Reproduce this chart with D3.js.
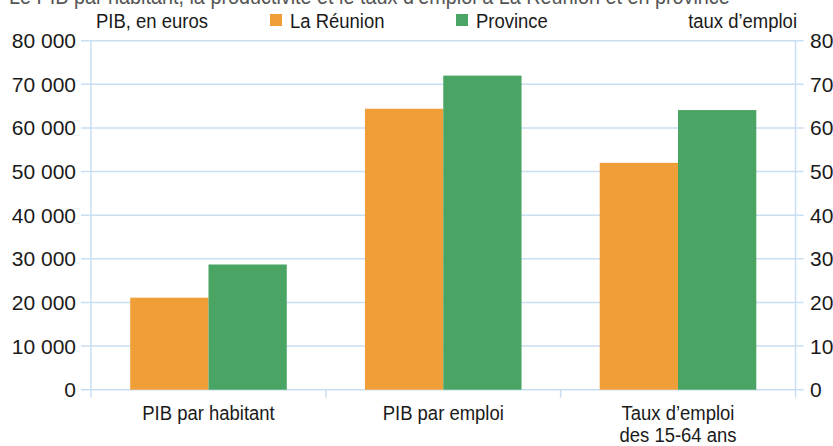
<!DOCTYPE html>
<html>
<head>
<meta charset="utf-8">
<script src="https://cdn.jsdelivr.net/npm/d3@7"></script>
<style>
  body { margin: 0; background: #fff; }
  svg text { font-family: "Liberation Sans", Arial, sans-serif; fill: #1a1a1a; }
</style>
</head>
<body>
<div class="svg-container"></div>
<script>
// data
const categories = [["PIB par habitant"], ["PIB par emploi"], ["Taux d’emploi", "des 15-64 ans"]];
const seriesNames = ["La Réunion", "Province"];
const reunion = [21100, 64400, 52.0];
const province = [28700, 72000, 64.1];
const useRightAxis = [false, false, true];
const leftTicks = [0, 10000, 20000, 30000, 40000, 50000, 60000, 70000, 80000];
const rightTicks = [0, 10, 20, 30, 40, 50, 60, 70, 80];
const colors = ["#f09f38", "#4aa564"];

const w = 833;
const h = 446;
const plotL = 91, plotR = 795.5, plotT = 40.7, plotB = 389.7;
const gridColor = "#c8def2";
const narrow = 0.88; // the original font is condensed

const svg = d3.select(".svg-container")
  .append("svg")
  .attr("width", w)
  .attr("height", h);

// put a condensed text at x, y
function label(parent, x, y, txt, anchor, size) {
  return parent.append("text")
    .attr("transform", "translate(" + x + "," + y + ") scale(" + narrow + ",1)")
    .attr("text-anchor", anchor || "start")
    .style("font-size", (size || 21) + "px")
    .text(txt);
}

// SCALES
const yLeft = d3.scaleLinear().domain([0, 80000]).range([plotB, plotT]);
const yRight = d3.scaleLinear().domain([0, 80]).range([plotB, plotT]);

const x0 = d3.scaleBand()
  .domain(d3.range(categories.length))
  .range([plotL, plotR])
  .paddingInner(0.333)
  .paddingOuter(0.167);
const x1 = d3.scaleBand()
  .domain(d3.range(seriesNames.length))
  .range([0, x0.bandwidth()]);

// title (cut at the top, as in the original)
label(svg, 9, 3.5, "Le PIB par habitant, la productivité et le taux d’emploi à La Réunion et en province", "start", 22.5)
  .style("fill", "#555");

// GRID
svg.append("g")
  .selectAll("line")
  .data(leftTicks)
  .enter()
  .append("line")
  .attr("x1", plotL - 10)
  .attr("x2", plotR + 8)
  .attr("y1", d => yLeft(d))
  .attr("y2", d => yLeft(d))
  .attr("stroke", gridColor)
  .attr("stroke-width", 1.5);

// axis lines
svg.append("line")
  .attr("x1", plotL).attr("x2", plotL)
  .attr("y1", plotT).attr("y2", plotB + 8)
  .attr("stroke", gridColor).attr("stroke-width", 1.5);
svg.append("line")
  .attr("x1", plotR).attr("x2", plotR)
  .attr("y1", plotT).attr("y2", plotB + 8)
  .attr("stroke", gridColor).attr("stroke-width", 1.5);

// category ticks
svg.append("g")
  .selectAll("line")
  .data(d3.range(1, categories.length))
  .enter()
  .append("line")
  .attr("x1", i => x0(i) - x0.step() * x0.paddingInner() / 2)
  .attr("x2", i => x0(i) - x0.step() * x0.paddingInner() / 2)
  .attr("y1", plotB)
  .attr("y2", plotB + 8)
  .attr("stroke", gridColor).attr("stroke-width", 1.5);

// RECT
const groups = svg.append("g")
  .selectAll("g")
  .data(categories.map((c, i) => i))
  .enter()
  .append("g")
  .attr("transform", i => "translate(" + x0(i) + ",0)");

groups.selectAll("rect")
  .data(i => [reunion[i], province[i]].map((v, s) => ({ v: v, s: s, right: useRightAxis[i] })))
  .enter()
  .append("rect")
  .attr("x", d => x1(d.s))
  .attr("width", x1.bandwidth())
  .attr("y", d => (d.right ? yRight : yLeft)(d.v))
  .attr("height", d => plotB - (d.right ? yRight : yLeft)(d.v))
  .attr("fill", d => colors[d.s]);

// AXIS labels
const fmt = d => d3.format(",")(d).replace(/,/g, " ");
svg.append("g")
  .selectAll("text")
  .data(leftTicks)
  .enter()
  .append("text")
  .attr("x", 76)
  .attr("y", d => yLeft(d) + 7.5)
  .attr("text-anchor", "end")
  .style("font-size", "21px")
  .text(fmt);

svg.append("g")
  .selectAll("text")
  .data(rightTicks)
  .enter()
  .append("text")
  .attr("x", 810)
  .attr("y", d => yRight(d) + 7.5)
  .style("font-size", "21px")
  .text(d => d);

// category labels
const catG = svg.append("g");
categories.forEach((lines, i) => {
  lines.forEach((t, j) => {
    label(catG, x0(i) + x0.bandwidth() / 2, 420 + j * 22, t, "middle");
  });
});

// axis titles
label(svg, 96, 28, "PIB, en euros");
label(svg, 797, 28, "taux d’emploi", "end");

// legend
const legendX = [270, 456];
const legend = svg.append("g");
seriesNames.forEach((name, i) => {
  legend.append("rect")
    .attr("x", legendX[i])
    .attr("y", 14)
    .attr("width", 12)
    .attr("height", 12)
    .attr("fill", colors[i]);
  label(legend, legendX[i] + 20, 27.5, name);
});
</script>
</body>
</html>
